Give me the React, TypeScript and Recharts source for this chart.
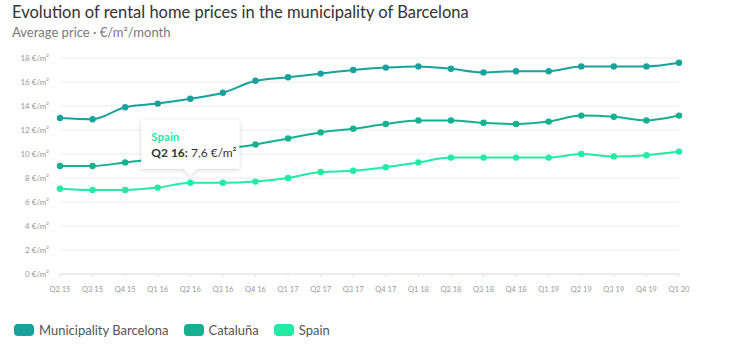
import React from 'react';
import {
    LineChart,
    Line,
    XAxis,
    YAxis,
    CartesianGrid,
} from 'recharts';

const quarters = [
    'Q2 15', 'Q3 15', 'Q4 15', 'Q1 16', 'Q2 16', 'Q3 16', 'Q4 16', 'Q1 17', 'Q2 17', 'Q3 17',
    'Q4 17', 'Q1 18', 'Q2 18', 'Q3 18', 'Q4 18', 'Q1 19', 'Q2 19', 'Q3 19', 'Q4 19', 'Q1 20',
];
const barcelona = [13.0, 12.9, 13.9, 14.2, 14.6, 15.1, 16.1, 16.4, 16.7, 17.0, 17.2, 17.3, 17.1, 16.8, 16.9, 16.9, 17.3, 17.3, 17.3, 17.6];
const cataluna = [9.0, 9.0, 9.3, 9.6, 10.0, 10.4, 10.8, 11.3, 11.8, 12.1, 12.5, 12.8, 12.8, 12.6, 12.5, 12.7, 13.2, 13.1, 12.8, 13.2];
const spain = [7.1, 7.0, 7.0, 7.2, 7.6, 7.6, 7.7, 8.0, 8.5, 8.6, 8.9, 9.3, 9.7, 9.7, 9.7, 9.7, 10.0, 9.8, 9.9, 10.2];
const yTicks = [0, 2, 4, 6, 8, 10, 12, 14, 16, 18];

const seriesNames = ['Municipality Barcelona', 'Cataluña', 'Spain'];
const colors = ['#17a29e', '#14b08f', '#22eba4'];
const tooltipIndex = 4;

const data = quarters.map((q, i) => ({
    q,
    bcn: barcelona[i],
    cat: cataluna[i],
    esp: spain[i],
}));

const FONT = '"Source Sans Pro", Lato, "Noto Sans", sans-serif';

const fmt = (v: number) => v.toFixed(1).replace('.', ',');

// Spain dots, plus the pinned tooltip box above the selected point
const spainDot = (props: any) => {
    const { cx, cy, index } = props;
    const dot = <circle key={'d' + index} cx={cx} cy={cy} r={3.2} fill={colors[2]} />;
    if (index !== tooltipIndex) return dot;
    const w = 98;
    const h = 49;
    const left = cx - w / 2;
    const bottom = cy - 14;
    const top = bottom - h;
    return (
        <g key={'d' + index}>
            {dot}
            <defs>
                <filter id='tipShadow' x='-20%' y='-20%' width='140%' height='150%'>
                    <feDropShadow dx='0' dy='1' stdDeviation='2' floodColor='#000' floodOpacity='0.18' />
                </filter>
            </defs>
            <path
                d={`M${left},${top} H${left + w} V${bottom} H${cx + 7} L${cx},${bottom + 7} L${cx - 7},${bottom} H${left} Z`}
                fill='#fff'
                filter='url(#tipShadow)'
            />
            <text x={left + 10} y={top + 21} fontSize={11.5} fontWeight={700} fill={colors[2]} fontFamily={FONT}>
                {seriesNames[2]}
            </text>
            <text x={left + 10} y={top + 37} fontSize={12} fill='#333' fontFamily={FONT}>
                <tspan fontWeight={700}>{quarters[index]}:</tspan>
                <tspan>{' ' + fmt(spain[index]) + ' €/m²'}</tspan>
            </text>
        </g>
    );
};

export default function App() {
    return (
        <div style={{ position: 'absolute', left: 0, top: 0, width: 735, height: 354, background: '#fff', fontFamily: FONT }}>
            <div style={{ position: 'absolute', left: 12, top: 2, fontSize: 16.5, color: '#333' }}>
                Evolution of rental home prices in the municipality of Barcelona
            </div>
            <div style={{ position: 'absolute', left: 12, top: 24, fontSize: 13, color: '#777' }}>
                Average price · €/m²/month
            </div>
            <div style={{ position: 'absolute', left: 0, top: 0 }}>
                <LineChart width={735} height={310} data={data} margin={{ top: 58, right: 56, left: 0, bottom: 0 }}>
                    <CartesianGrid stroke='#ececec' vertical={false} />
                    <XAxis
                        dataKey='q'
                        interval={0}
                        tick={{ fontSize: 7.5, fill: '#999', fontFamily: FONT }}
                        tickLine={{ stroke: '#e2e2e2' }}
                        tickSize={3}
                        axisLine={{ stroke: '#e2e2e2' }}
                        height={36}
                        tickMargin={10}
                    />
                    <YAxis
                        width={60}
                        domain={[0, 18]}
                        ticks={yTicks}
                        axisLine={false}
                        tickLine={false}
                        tick={{ fontSize: 8, fill: '#999', fontFamily: FONT }}
                        tickFormatter={(v: number) => `${v} €/m²`}
                        tickMargin={5}
                    />
                    <Line type='monotone' dataKey='bcn' name={seriesNames[0]} stroke={colors[0]} strokeWidth={2}
                        dot={{ r: 3.2, fill: colors[0], stroke: 'none' }} isAnimationActive={false} />
                    <Line type='monotone' dataKey='cat' name={seriesNames[1]} stroke={colors[1]} strokeWidth={2}
                        dot={{ r: 3.2, fill: colors[1], stroke: 'none' }} isAnimationActive={false} />
                    <Line type='monotone' dataKey='esp' name={seriesNames[2]} stroke={colors[2]} strokeWidth={2}
                        dot={spainDot} isAnimationActive={false} />
                </LineChart>
            </div>
            <div style={{ position: 'absolute', left: 14, top: 322, display: 'flex', alignItems: 'center', fontSize: 13, color: '#555' }}>
                {seriesNames.map((name, i) => (
                    <div key={name} style={{ display: 'flex', alignItems: 'center', marginRight: 15 }}>
                        <span style={{ width: 20, height: 12, borderRadius: 4, background: colors[i], marginRight: 5, display: 'inline-block' }} />
                        <span>{name}</span>
                    </div>
                ))}
            </div>
        </div>
    );
}
